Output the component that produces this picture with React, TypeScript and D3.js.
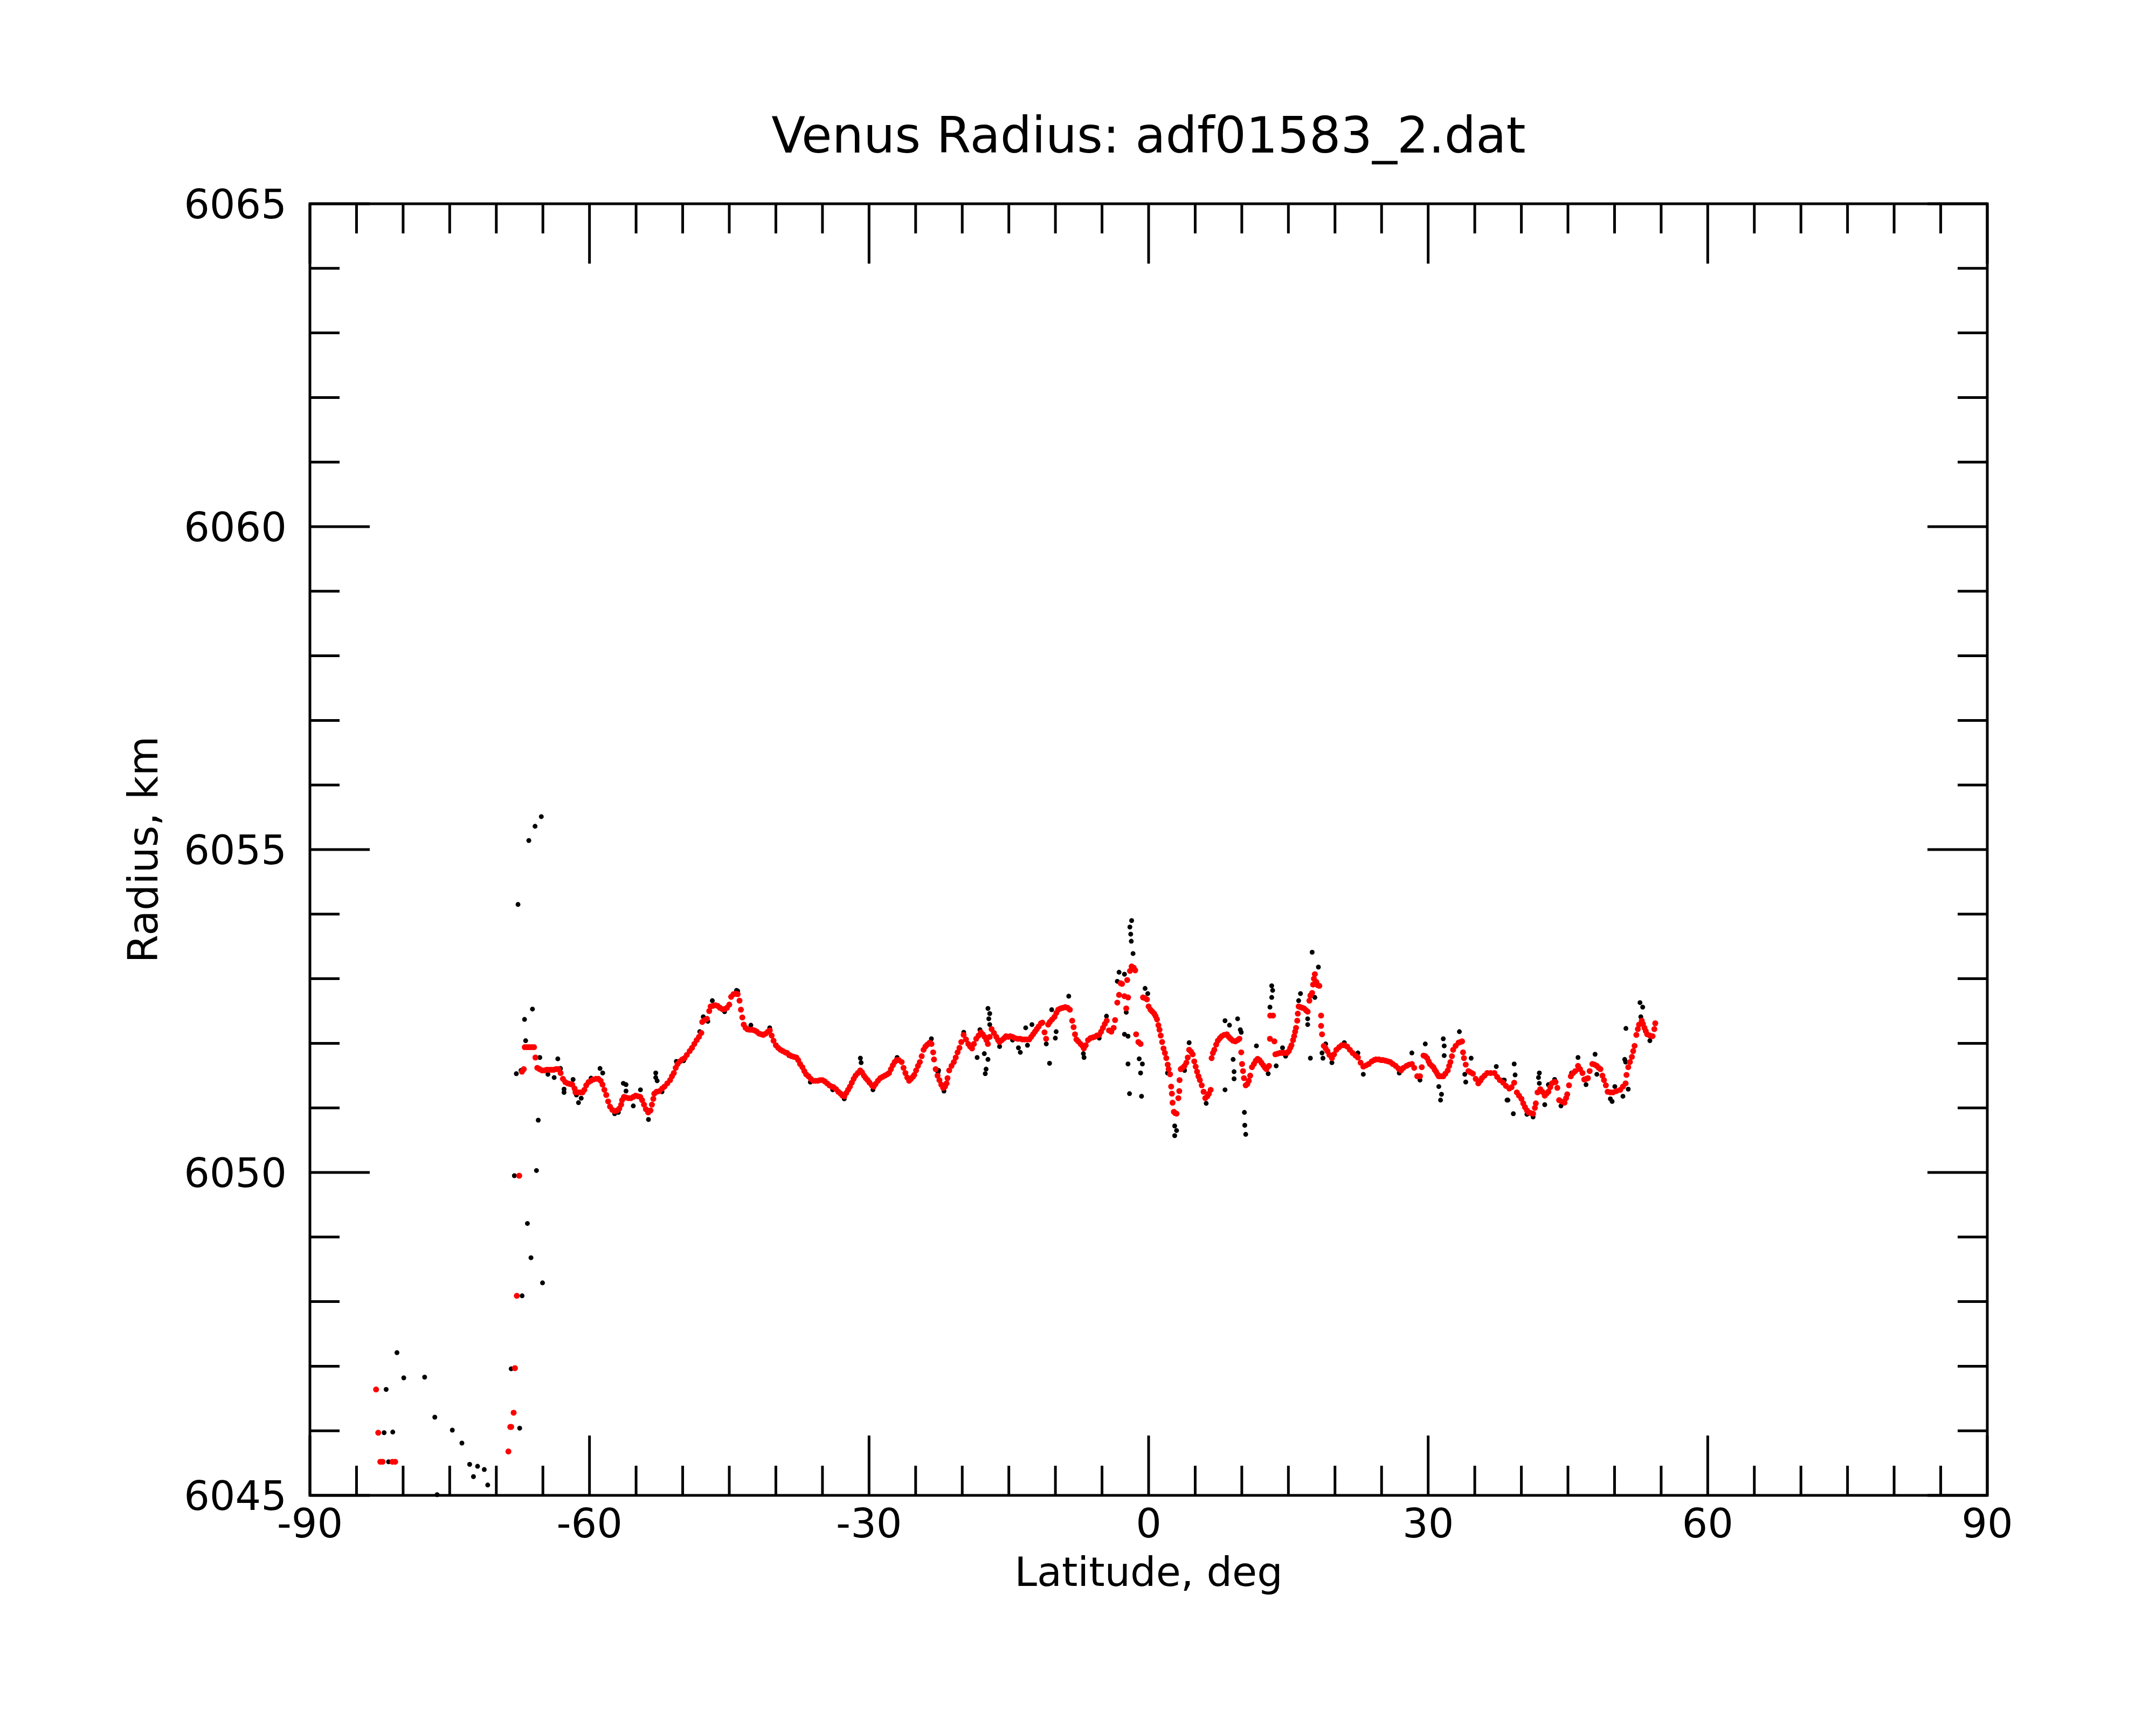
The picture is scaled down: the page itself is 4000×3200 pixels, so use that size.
import React from 'react';
import * as d3 from 'd3';

// Latitude (deg) / radius (km) pairs.
// Black = raw altimetry samples, red = filtered profile.
const rawPoints: [number, number][] = [
  [-81.82, 6046.64], [-82.04, 6045.97], [-81.11, 6045.98], [-81.56, 6045.52], [-80.66, 6047.21],
  [-79.93, 6046.82], [-77.69, 6046.83], [-76.6, 6046.21], [-76.35, 6045.01], [-74.72, 6046.01],
  [-73.69, 6045.81], [-72.86, 6045.48], [-72.45, 6045.29], [-72.01, 6045.45], [-71.29, 6045.4],
  [-70.92, 6045.16], [-68.4, 6046.96], [-68.06, 6049.95], [-67.49, 6046.04], [-67.23, 6048.09],
  [-67.85, 6051.53], [-67.67, 6054.15], [-66.66, 6049.21], [-66.28, 6048.68], [-65.69, 6050.03],
  [-65.5, 6050.81], [-65.04, 6048.29], [-66.51, 6055.14], [-65.84, 6055.36], [-65.17, 6055.51],
  [-66.12, 6052.53], [-66.97, 6052.37], [-66.85, 6052.04], [-67.35, 6051.58], [-65.33, 6051.78],
  [-63.4, 6051.76], [-63.11, 6051.61], [-64.46, 6051.52], [-63.79, 6051.47], [-62.73, 6051.29],
  [-62.73, 6051.24], [-61.76, 6051.44], [-61.18, 6051.08], [-60.89, 6051.15], [-58.87, 6051.61],
  [-58.58, 6051.54], [-59.83, 6051.46], [-56.37, 6051.38], [-56.08, 6051.36], [-56.08, 6051.26],
  [-55.3, 6051.03], [-54.53, 6051.28], [-53.67, 6050.82], [-52.89, 6051.54], [-52.89, 6051.47],
  [-52.74, 6051.42], [-52.22, 6051.25], [-50.68, 6051.72], [-48.17, 6052.18], [-47.79, 6052.41],
  [-46.82, 6052.66], [-44.22, 6052.82], [-43.06, 6052.21], [-42.68, 6052.28], [-57.3, 6050.91],
  [-56.9, 6050.93], [-61.4, 6051.2], [-49.9, 6051.73], [-47.3, 6052.34], [-45.5, 6052.49],
  [-44.1, 6052.81],
  [-30.93, 6051.77], [-30.85, 6051.7], [-17.24, 6052.54], [-17.05, 6052.46], [-17.15, 6052.38],
  [-17.05, 6052.29], [-18.4, 6051.78], [-17.63, 6051.84], [-17.24, 6051.75], [-17.44, 6051.6],
  [-17.53, 6051.53], [-23.31, 6052.07], [-15.99, 6051.95], [-29.58, 6051.28], [-32.66, 6051.14],
  [-21.96, 6051.26], [-40.66, 6052.24], [-26.99, 6051.78], [-33.9, 6051.28], [-36.3, 6051.4],
  [-38.6, 6051.81], [-19.84, 6052.17], [-18.1, 6052.21], [-22.6, 6051.55], [-22.54, 6051.58],
  [-1.82, 6053.9], [-2.01, 6053.8], [-1.92, 6053.69], [-1.86, 6053.58], [-1.67, 6053.39],
  [-3.17, 6053.1], [-2.59, 6053.07], [-3.36, 6052.96], [-0.38, 6052.85], [-0.09, 6052.77],
  [-2.4, 6052.48], [-2.59, 6052.14], [-2.21, 6052.11], [-2.21, 6051.68], [-1.01, 6051.76],
  [-0.67, 6051.68], [-0.86, 6051.54], [-2.05, 6051.22], [-0.76, 6051.18], [-10.63, 6051.69],
  [-8.57, 6052.73], [-10.4, 6052.52], [-9.92, 6052.18], [-10.01, 6052.08], [-13.77, 6051.86],
  [-13.97, 6051.93], [-13.19, 6052.24], [-12.52, 6052.29], [-13.0, 6051.97], [-10.98, 6051.99],
  [-6.93, 6051.78], [2.8, 6050.72], [3.0, 6050.65], [2.8, 6050.57], [4.35, 6052.01],
  [6.18, 6051.07], [8.2, 6052.35], [8.68, 6052.28], [9.55, 6052.38], [9.84, 6052.21],
  [9.94, 6052.17], [9.07, 6051.75], [9.17, 6051.56], [9.17, 6051.45], [8.2, 6051.28],
  [10.28, 6050.93], [10.32, 6050.73], [10.42, 6050.59], [11.57, 6051.96], [2.03, 6051.54],
  [3.86, 6051.58], [-4.52, 6052.42], [-14.6, 6052.05], [-7.0, 6051.84], [-5.3, 6052.08],
  [13.21, 6052.89], [13.31, 6052.82], [13.21, 6052.71], [13.02, 6052.56], [13.69, 6051.65],
  [14.37, 6051.93], [12.83, 6051.53], [16.3, 6052.77], [16.1, 6052.66], [17.55, 6053.41],
  [18.22, 6053.18], [17.84, 6052.71], [17.07, 6052.38], [17.07, 6052.29], [17.36, 6051.77],
  [18.71, 6051.77], [18.61, 6051.85], [19.0, 6051.99], [19.67, 6051.7], [22.46, 6051.85],
  [23.04, 6051.52], [28.25, 6051.85], [29.69, 6051.99], [29.12, 6051.43], [31.62, 6052.07],
  [31.72, 6051.96], [31.72, 6051.81], [31.14, 6051.33], [31.43, 6051.21], [31.33, 6051.12],
  [33.35, 6052.18], [34.03, 6051.4], [33.93, 6051.52], [34.61, 6051.77], [37.31, 6051.64],
  [38.46, 6051.12], [38.08, 6051.43], [26.9, 6051.54], [21.0, 6052.01], [14.7, 6051.8],
  [52.73, 6052.63], [53.02, 6052.56], [52.82, 6052.41], [51.22, 6052.23], [53.79, 6052.04],
  [51.09, 6051.75], [51.19, 6051.71], [51.47, 6051.29], [50.9, 6051.18], [49.74, 6051.1],
  [49.55, 6051.14], [50.03, 6051.33], [47.91, 6051.83], [48.1, 6051.52], [46.08, 6051.78],
  [46.94, 6051.36], [45.4, 6051.54], [41.93, 6051.54], [41.84, 6051.47], [41.93, 6051.38],
  [42.51, 6051.05], [42.9, 6051.36], [39.23, 6051.68], [39.33, 6051.51], [39.14, 6050.91],
  [38.56, 6051.12], [38.17, 6051.43], [44.25, 6051.03], [41.26, 6050.86], [43.57, 6051.44],
  [40.6, 6050.9],
];

const smoothedPoints: [number, number][] = [
  [-82.9, 6046.64], [-82.67, 6045.97], [-82.45, 6045.52], [-82.2, 6045.52], [-81.15, 6045.52],
  [-80.85, 6045.52],
  [-68.7, 6045.68], [-68.5, 6046.06], [-68.4, 6046.06], [-68.14, 6046.28], [-68.0, 6046.97],
  [-67.8, 6048.09], [-67.54, 6049.95], [-67.25, 6051.56], [-67.05, 6051.6],
  [-66.95, 6051.94], [-66.7, 6051.94], [-66.45, 6051.94], [-66.2, 6051.94], [-65.95, 6051.94],
  [-65.8, 6051.78], [-65.6, 6051.62], [-65.35, 6051.6], [-65.1, 6051.58], [-64.85, 6051.58],
  [-64.6, 6051.59], [-64.35, 6051.59], [-64.1, 6051.59], [-63.85, 6051.59], [-63.6, 6051.6],
  [-63.35, 6051.6], [-63.1, 6051.54], [-62.85, 6051.45], [-62.6, 6051.4], [-62.35, 6051.38],
  [-62.1, 6051.37], [-61.85, 6051.36], [-61.6, 6051.3], [-61.5, 6051.24], [-61.25, 6051.24],
  [-61.0, 6051.24], [-60.75, 6051.24], [-60.55, 6051.28], [-60.35, 6051.35], [-60.1, 6051.4],
  [-59.85, 6051.42], [-59.6, 6051.44], [-59.3, 6051.45], [-59.05, 6051.45], [-58.8, 6051.42],
  [-58.6, 6051.36], [-58.4, 6051.28], [-58.2, 6051.2], [-58.0, 6051.1], [-57.8, 6051.02],
  [-57.55, 6050.97], [-57.3, 6050.95], [-57.05, 6050.96], [-56.8, 6050.99], [-56.6, 6051.05],
  [-56.5, 6051.12], [-56.3, 6051.17], [-56.05, 6051.16], [-55.8, 6051.15], [-55.55, 6051.15],
  [-55.3, 6051.17], [-55.05, 6051.19], [-54.8, 6051.18], [-54.55, 6051.17], [-54.35, 6051.12],
  [-54.15, 6051.05], [-53.95, 6050.98], [-53.7, 6050.93], [-53.45, 6050.96], [-53.3, 6051.05],
  [-53.15, 6051.14], [-53.05, 6051.22], [-52.8, 6051.25], [-52.5, 6051.26], [-52.2, 6051.3],
  [-51.95, 6051.33], [-51.65, 6051.38], [-51.35, 6051.43], [-51.15, 6051.49], [-50.95, 6051.54],
  [-50.75, 6051.62], [-50.55, 6051.68], [-50.3, 6051.72], [-50.05, 6051.75], [-49.8, 6051.77],
  [-49.55, 6051.82], [-49.25, 6051.88], [-49.0, 6051.93], [-48.75, 6051.99], [-48.5, 6052.05],
  [-48.25, 6052.1], [-48.0, 6052.16], [-47.9, 6052.33], [-47.65, 6052.36], [-47.4, 6052.38],
  [-47.15, 6052.5], [-47.0, 6052.57], [-46.75, 6052.58], [-46.5, 6052.59], [-46.25, 6052.58],
  [-46.0, 6052.55], [-45.75, 6052.53], [-45.5, 6052.53], [-45.25, 6052.55], [-45.0, 6052.6],
  [-44.8, 6052.72], [-44.55, 6052.76], [-44.3, 6052.77], [-44.1, 6052.76], [-43.9, 6052.66],
  [-43.75, 6052.52], [-43.6, 6052.4], [-43.45, 6052.29], [-43.25, 6052.24], [-43.05, 6052.22],
  [-42.8, 6052.21], [-42.55, 6052.21], [-42.3, 6052.2], [-42.05, 6052.18], [-41.8, 6052.15],
  [-41.55, 6052.14], [-41.35, 6052.13], [-41.1, 6052.15], [-40.85, 6052.18], [-40.65, 6052.2],
  [-40.45, 6052.12], [-40.25, 6052.04], [-40.0, 6051.97], [-39.75, 6051.93], [-39.5, 6051.9],
  [-39.25, 6051.88], [-39.0, 6051.86], [-38.8, 6051.85], [-38.55, 6051.82], [-38.3, 6051.8],
  [-38.05, 6051.79], [-37.8, 6051.78], [-37.6, 6051.74], [-37.4, 6051.68], [-37.15, 6051.63],
  [-36.95, 6051.57], [-36.75, 6051.52], [-36.5, 6051.49], [-36.25, 6051.45], [-36.0, 6051.42],
  [-35.75, 6051.42], [-35.5, 6051.42], [-35.25, 6051.43], [-35.0, 6051.43], [-34.75, 6051.41],
  [-34.5, 6051.38], [-34.25, 6051.35], [-34.0, 6051.33], [-33.8, 6051.32], [-33.55, 6051.29],
  [-33.3, 6051.25], [-33.05, 6051.22], [-32.85, 6051.19], [-32.65, 6051.18], [-32.45, 6051.23],
  [-32.25, 6051.28], [-32.05, 6051.33], [-31.85, 6051.39], [-31.65, 6051.45], [-31.45, 6051.5],
  [-31.2, 6051.54], [-30.95, 6051.58], [-30.75, 6051.55], [-30.55, 6051.5], [-30.35, 6051.46],
  [-30.15, 6051.43], [-29.95, 6051.39], [-29.7, 6051.35], [-29.5, 6051.33], [-29.3, 6051.37],
  [-29.05, 6051.42], [-28.8, 6051.46], [-28.55, 6051.48], [-28.3, 6051.5], [-28.05, 6051.52],
  [-27.85, 6051.54], [-27.65, 6051.6], [-27.45, 6051.66], [-27.25, 6051.71], [-27.05, 6051.74],
  [-26.8, 6051.74], [-26.5, 6051.71], [-26.3, 6051.62], [-26.1, 6051.54], [-25.9, 6051.47],
  [-25.7, 6051.42], [-25.5, 6051.45], [-25.3, 6051.48], [-25.15, 6051.51], [-24.95, 6051.58],
  [-24.75, 6051.65], [-24.55, 6051.71], [-24.35, 6051.8], [-24.15, 6051.9], [-23.95, 6051.95],
  [-23.75, 6051.98], [-23.5, 6052.01], [-23.3, 6051.99], [-23.12, 6051.86], [-23.03, 6051.75],
  [-22.85, 6051.6], [-22.65, 6051.5], [-22.45, 6051.43], [-22.25, 6051.36], [-22.05, 6051.31],
  [-21.85, 6051.33], [-21.68, 6051.38], [-21.58, 6051.46], [-21.4, 6051.58], [-21.15, 6051.65],
  [-20.9, 6051.71], [-20.7, 6051.78], [-20.5, 6051.86], [-20.3, 6051.93], [-20.1, 6052.02],
  [-19.85, 6052.13], [-19.6, 6052.06], [-19.35, 6051.99], [-19.15, 6051.95], [-18.95, 6051.92],
  [-18.75, 6051.99], [-18.5, 6052.07], [-18.25, 6052.12], [-18.0, 6052.17], [-17.8, 6052.14],
  [-17.6, 6052.1], [-17.4, 6052.05], [-17.25, 6051.99], [-17.05, 6052.1], [-16.85, 6052.22],
  [-16.6, 6052.16], [-16.35, 6052.1], [-16.15, 6052.05], [-16.0, 6052.02], [-15.75, 6052.05],
  [-15.5, 6052.08], [-15.3, 6052.11], [-15.05, 6052.1], [-14.85, 6052.11], [-14.6, 6052.1],
  [-14.35, 6052.08], [-14.05, 6052.07], [-13.8, 6052.07], [-13.55, 6052.06], [-13.3, 6052.06],
  [-13.05, 6052.06], [-12.8, 6052.06], [-12.6, 6052.1], [-12.4, 6052.14], [-12.2, 6052.18],
  [-12.0, 6052.22], [-11.8, 6052.26], [-11.55, 6052.31], [-11.4, 6052.32], [-11.17, 6052.17],
  [-11.0, 6052.07], [-10.78, 6052.29], [-10.6, 6052.33], [-10.35, 6052.37], [-10.1, 6052.41],
  [-9.9, 6052.47], [-9.7, 6052.52], [-9.45, 6052.54], [-9.2, 6052.55], [-8.95, 6052.56],
  [-8.7, 6052.55], [-8.45, 6052.52], [-8.2, 6052.35], [-8.05, 6052.25], [-7.9, 6052.14],
  [-7.75, 6052.06], [-7.55, 6052.03], [-7.3, 6051.99], [-7.1, 6051.96], [-6.95, 6051.92],
  [-6.75, 6051.97], [-6.5, 6052.05], [-6.25, 6052.08], [-6.0, 6052.09], [-5.8, 6052.1],
  [-5.55, 6052.12], [-5.3, 6052.13], [-5.1, 6052.18], [-4.9, 6052.24], [-4.7, 6052.3],
  [-4.5, 6052.35], [-4.25, 6052.2], [-4.0, 6052.18], [-3.75, 6052.24], [-3.6, 6052.36],
  [-3.36, 6052.63], [-3.17, 6052.75], [-3.0, 6052.93], [-2.85, 6052.92], [-2.6, 6052.73],
  [-2.4, 6052.54], [-2.2, 6052.71], [-2.3, 6052.98], [-2.0, 6053.12], [-1.82, 6053.19],
  [-1.6, 6053.17], [-1.44, 6053.13], [-1.34, 6052.14], [-1.1, 6052.02], [-0.86, 6051.99],
  [-0.6, 6052.71], [-0.4, 6052.7], [-0.18, 6052.68], [0.0, 6052.57], [0.2, 6052.52],
  [0.4, 6052.49], [0.6, 6052.46], [0.75, 6052.42], [0.9, 6052.37], [1.05, 6052.28],
  [1.17, 6052.21], [1.3, 6052.12], [1.45, 6052.02], [1.6, 6051.92], [1.75, 6051.85],
  [1.9, 6051.77], [2.05, 6051.67], [2.15, 6051.6], [2.3, 6051.52], [2.42, 6051.33],
  [2.5, 6051.22], [2.57, 6051.08], [2.71, 6050.94], [2.85, 6050.92], [3.0, 6050.91],
  [3.19, 6051.15], [3.29, 6051.26], [3.32, 6051.43], [3.45, 6051.6], [3.65, 6051.62],
  [3.85, 6051.65], [4.05, 6051.7], [4.2, 6051.78], [4.35, 6051.9], [4.55, 6051.87],
  [4.73, 6051.83], [4.9, 6051.72], [5.05, 6051.64], [5.2, 6051.56], [5.35, 6051.49],
  [5.5, 6051.43], [5.7, 6051.35], [5.9, 6051.25], [6.08, 6051.15], [6.3, 6051.18],
  [6.47, 6051.22], [6.66, 6051.28], [6.76, 6051.77], [6.9, 6051.85], [7.05, 6051.9],
  [7.25, 6051.98], [7.43, 6052.04], [7.65, 6052.08], [7.85, 6052.11], [8.1, 6052.13],
  [8.4, 6052.14], [8.6, 6052.1], [8.8, 6052.07], [9.05, 6052.04], [9.3, 6052.03],
  [9.55, 6052.05], [9.74, 6052.07], [9.94, 6051.86], [10.03, 6051.68], [10.13, 6051.57],
  [10.23, 6051.46], [10.42, 6051.35], [10.6, 6051.37], [10.75, 6051.42], [10.9, 6051.5],
  [11.09, 6051.63], [11.3, 6051.68], [11.5, 6051.73], [11.7, 6051.76], [11.9, 6051.74],
  [12.1, 6051.7], [12.3, 6051.66], [12.5, 6051.62], [12.65, 6051.6], [12.92, 6051.65],
  [13.05, 6052.43], [13.35, 6052.43], [13.02, 6052.07], [13.5, 6052.03], [13.6, 6051.83],
  [13.85, 6051.84], [14.1, 6051.85], [14.35, 6051.85], [14.6, 6051.85], [14.85, 6051.85],
  [15.05, 6051.88], [15.2, 6051.93], [15.33, 6051.97], [15.5, 6052.05], [15.62, 6052.11],
  [15.72, 6052.18], [15.82, 6052.24], [15.95, 6052.35], [16.01, 6052.46], [16.1, 6052.57],
  [16.3, 6052.56], [16.5, 6052.55], [16.68, 6052.54], [16.9, 6052.51], [17.07, 6052.49],
  [17.25, 6052.66], [17.36, 6052.74], [17.55, 6052.78], [17.65, 6052.91], [17.74, 6053.0],
  [17.84, 6053.07], [18.0, 6052.95], [18.15, 6052.9], [18.32, 6052.89], [18.51, 6052.43],
  [18.51, 6052.27], [18.61, 6052.14], [18.8, 6051.96], [19.0, 6051.92], [19.19, 6051.88],
  [19.4, 6051.82], [19.67, 6051.77], [19.9, 6051.83], [20.15, 6051.9], [20.45, 6051.94],
  [20.73, 6051.97], [21.0, 6051.97], [21.31, 6051.95], [21.6, 6051.9], [21.89, 6051.85],
  [22.2, 6051.81], [22.46, 6051.78], [22.75, 6051.7], [23.04, 6051.64], [23.35, 6051.66],
  [23.62, 6051.68], [23.95, 6051.72], [24.2, 6051.74], [24.39, 6051.75], [24.7, 6051.75],
  [24.95, 6051.74], [25.16, 6051.74], [25.45, 6051.73], [25.7, 6051.72], [25.93, 6051.71],
  [26.2, 6051.68], [26.51, 6051.65], [26.8, 6051.61], [27.09, 6051.58], [27.35, 6051.62],
  [27.67, 6051.65], [27.95, 6051.67], [28.25, 6051.68], [28.5, 6051.62], [28.83, 6051.49],
  [29.12, 6051.49], [29.31, 6051.63], [29.5, 6051.81], [29.7, 6051.8], [29.89, 6051.77],
  [30.05, 6051.72], [30.18, 6051.68], [30.4, 6051.65], [30.56, 6051.63], [30.7, 6051.59],
  [30.85, 6051.56], [31.0, 6051.52], [31.14, 6051.49], [31.4, 6051.49], [31.62, 6051.49],
  [31.85, 6051.53], [32.1, 6051.58], [32.25, 6051.65], [32.39, 6051.71], [32.55, 6051.8],
  [32.68, 6051.9], [32.95, 6051.96], [33.26, 6052.01], [33.45, 6052.02], [33.64, 6052.03],
  [33.74, 6051.86], [33.84, 6051.77], [34.03, 6051.67], [34.32, 6051.57], [34.55, 6051.55],
  [34.8, 6051.53], [35.1, 6051.45], [35.38, 6051.38], [35.6, 6051.42], [35.77, 6051.46],
  [36.05, 6051.5], [36.34, 6051.54], [36.7, 6051.54], [37.11, 6051.54], [37.4, 6051.48],
  [37.69, 6051.43], [38.05, 6051.39], [38.35, 6051.34], [38.7, 6051.3], [38.95, 6051.32],
  [39.23, 6051.39], [39.52, 6051.24], [39.75, 6051.19], [40.01, 6051.14], [40.2, 6051.07],
  [40.39, 6051.01], [40.6, 6050.96], [40.78, 6050.93], [41.0, 6050.92], [41.26, 6050.91],
  [41.45, 6051.0], [41.55, 6051.07], [41.74, 6051.24], [42.03, 6051.29], [42.25, 6051.25],
  [42.51, 6051.19], [42.7, 6051.22], [42.9, 6051.25], [43.1, 6051.32], [43.28, 6051.38],
  [43.5, 6051.4], [43.67, 6051.4], [43.86, 6051.31], [44.05, 6051.12], [44.3, 6051.1],
  [44.63, 6051.08], [44.8, 6051.15], [44.92, 6051.21], [45.11, 6051.35], [45.31, 6051.49],
  [45.55, 6051.54], [45.79, 6051.57], [46.08, 6051.65], [46.3, 6051.6], [46.56, 6051.54],
  [46.75, 6051.44], [46.95, 6051.45], [47.14, 6051.46], [47.33, 6051.57], [47.62, 6051.68],
  [47.85, 6051.67], [48.1, 6051.65], [48.3, 6051.62], [48.49, 6051.6], [48.7, 6051.5],
  [48.87, 6051.43], [49.07, 6051.35], [49.26, 6051.25], [49.55, 6051.24], [49.84, 6051.24],
  [50.2, 6051.26], [50.61, 6051.28], [50.9, 6051.33], [51.19, 6051.38], [51.28, 6051.51],
  [51.47, 6051.63], [51.65, 6051.71], [51.86, 6051.79], [52.0, 6051.88], [52.15, 6051.96],
  [52.34, 6052.13], [52.5, 6052.22], [52.63, 6052.29], [52.92, 6052.35], [53.05, 6052.3],
  [53.21, 6052.24], [53.35, 6052.19], [53.5, 6052.14], [53.8, 6052.12], [54.08, 6052.11],
  [54.27, 6052.22], [54.37, 6052.31],
];

const latDomain: [number, number] = [-90, 90];
const radiusDomain: [number, number] = [6045, 6065];
const latMajorTicks = [-90, -60, -30, 0, 30, 60, 90];
const radiusMajorTicks = [6045, 6050, 6055, 6060, 6065];

const W = 4000;
const H = 3200;
const left = 575, right = 3687, top = 378, bottom = 2774;
const FONT = "'DejaVu Sans', sans-serif";

export default function App() {
  const x = d3.scaleLinear().domain(latDomain).range([left, right]);
  const y = d3.scaleLinear().domain(radiusDomain).range([bottom, top]);

  const xMinor = d3.range(latDomain[0], latDomain[1] + 1, 5);
  const yMinor = d3.range(radiusDomain[0], radiusDomain[1] + 1, 1);
  const major = 111, minor = 55;

  return (
    <svg width={W} height={H} viewBox={`0 0 ${W} ${H}`}
      style={{ position: 'absolute', left: 0, top: 0, background: '#fff' }}
      fontFamily={FONT}>
      <rect x={0} y={0} width={W} height={H} fill="#fff" />

      {/* data: raw first, filtered on top */}
      <g fill="#000">
        {rawPoints.map(([lat, r], i) => (
          <circle key={`b${i}`} cx={x(lat)} cy={y(r)} r={4.5} />
        ))}
      </g>
      <g fill="#ff0000">
        {smoothedPoints.map(([lat, r], i) => (
          <circle key={`r${i}`} cx={x(lat)} cy={y(r)} r={5.5} />
        ))}
      </g>

      {/* ticks, inward on all four sides */}
      <g stroke="#000" strokeWidth={5}>
        {xMinor.map(v => {
          const len = latMajorTicks.includes(v) ? major : minor;
          return (
            <g key={`xt${v}`}>
              <line x1={x(v)} x2={x(v)} y1={bottom} y2={bottom - len} />
              <line x1={x(v)} x2={x(v)} y1={top} y2={top + len} />
            </g>
          );
        })}
        {yMinor.map(v => {
          const len = radiusMajorTicks.includes(v) ? major : minor;
          return (
            <g key={`yt${v}`}>
              <line x1={left} x2={left + len} y1={y(v)} y2={y(v)} />
              <line x1={right} x2={right - len} y1={y(v)} y2={y(v)} />
            </g>
          );
        })}
      </g>
      <rect x={left} y={top} width={right - left} height={bottom - top}
        fill="none" stroke="#000" strokeWidth={5} />

      {/* tick labels */}
      <g fontSize={75} fill="#000">
        {latMajorTicks.map(v => (
          <text key={`xl${v}`} x={x(v)} y={bottom + 78} textAnchor="middle">{v}</text>
        ))}
        {radiusMajorTicks.map(v => (
          <text key={`yl${v}`} x={left - 43} y={y(v)} dy="0.364em" textAnchor="end">{v}</text>
        ))}
      </g>

      <text x={(left + right) / 2} y={283} fontSize={92} textAnchor="middle">
        Venus Radius: adf01583_2.dat
      </text>
      <text x={(left + right) / 2} y={2942} fontSize={75} textAnchor="middle">
        Latitude, deg
      </text>
      <text transform={`translate(292, ${(top + bottom) / 2}) rotate(-90)`}
        fontSize={76} textAnchor="middle">
        Radius, km
      </text>
    </svg>
  );
}
